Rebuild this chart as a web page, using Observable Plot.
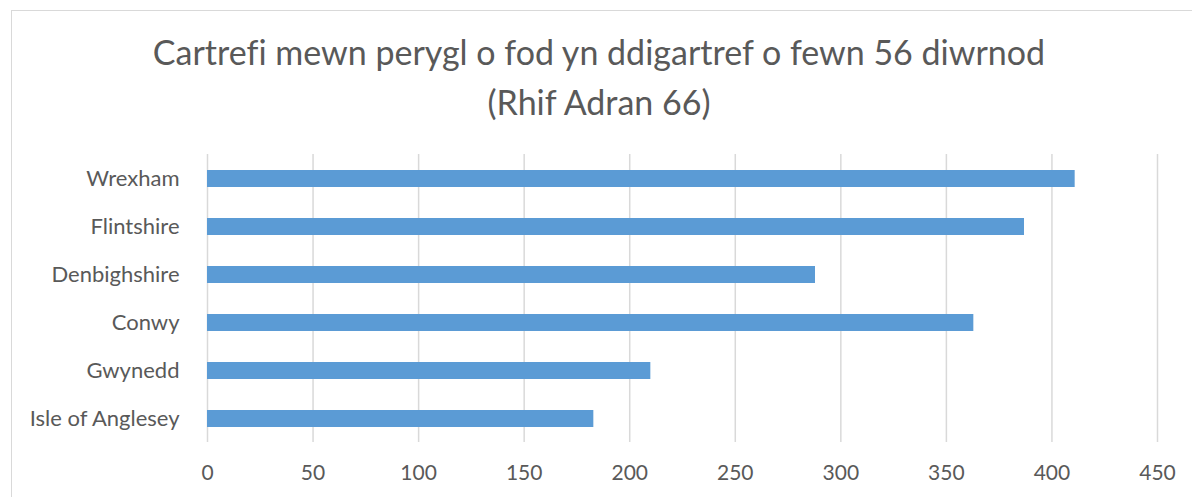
<!DOCTYPE html>
<html>
<head>
<meta charset="utf-8">
<script src="https://cdn.jsdelivr.net/npm/d3@7"></script>
<script src="https://cdn.jsdelivr.net/npm/@observablehq/plot@0.6"></script>
<style>
  html, body { margin: 0; padding: 0; background: #fff; }
  body { width: 1192px; height: 497px; overflow: hidden; position: relative; font-family: Lato, "Open Sans", sans-serif; font-variant-ligatures: none; }
  #frame { position: absolute; left: 11px; top: 10px; width: 1300px; height: 600px; border: 1.5px solid #d9d9d9; box-sizing: border-box; pointer-events: none; }
  #title { height: 140px; box-sizing: border-box; padding-top: 27px; text-align: center; color: #595959; font-size: 34px; line-height: 50px; padding-left: 6px; }
  #chart svg { display: block; font-variant-ligatures: none; }
</style>
</head>
<body>
<div id="frame"></div>
<div id="title">Cartrefi mewn perygl o fod yn ddigartref o fewn 56 diwrnod<br>(Rhif Adran 66)</div>
<div id="chart"></div>
<script>
const categories = ["Wrexham", "Flintshire", "Denbighshire", "Conwy", "Gwynedd", "Isle of Anglesey"];
const values = [411, 387, 288, 363, 210, 183];
const xTicks = [0, 50, 100, 150, 200, 250, 300, 350, 400, 450];

const data = categories.map((c, i) => ({ area: c, value: values[i] }));

const chart = Plot.plot({
  width: 1192,
  height: 357,
  marginTop: 14,
  marginBottom: 55,
  marginLeft: 207,
  marginRight: 35,
  style: { fontFamily: "Lato, 'Open Sans', sans-serif", color: "#595959", background: "transparent" },
  x: { domain: [0, 450], ticks: xTicks, label: null },
  y: { domain: categories, paddingInner: 0.646, paddingOuter: 0.323, label: null },
  marks: [
    Plot.gridX(xTicks, { stroke: "#d9d9d9", strokeOpacity: 1, strokeWidth: 1.5 }),
    Plot.barX(data, { x: "value", y: "area", fill: "#5b9bd5" }),
    Plot.axisX({ ticks: xTicks, tickSize: 0, tickPadding: 23, fontSize: 21, fill: "#595959", label: null }),
    Plot.axisY({ tickSize: 0, tickPadding: 28, fontSize: 22, fill: "#595959", label: null })
  ]
});
document.getElementById("chart").appendChild(chart);
</script>
</body>
</html>
